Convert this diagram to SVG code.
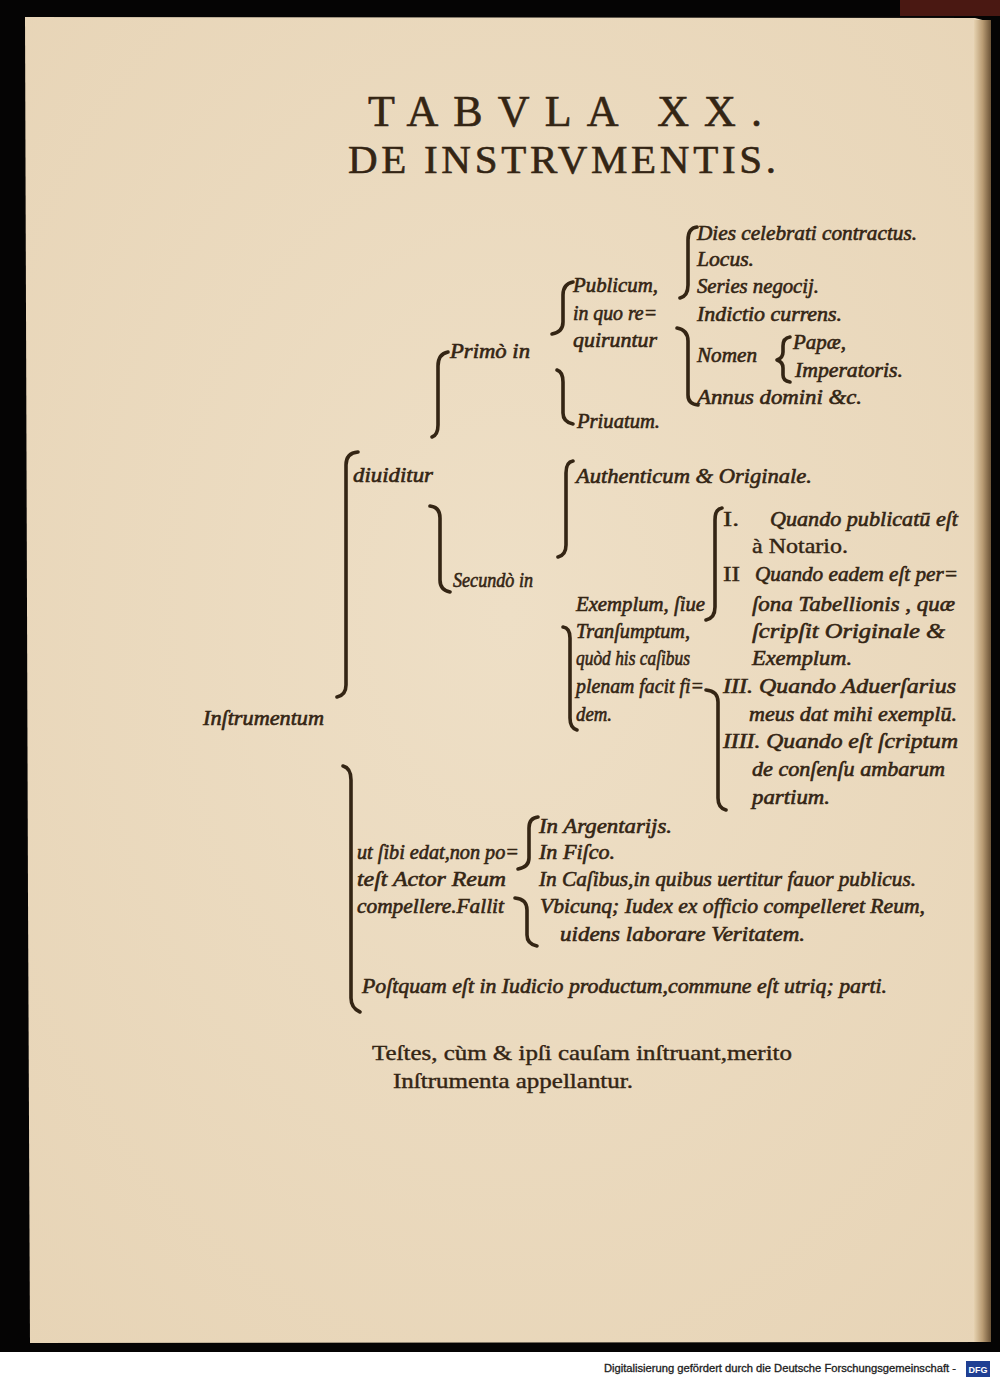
<svg xmlns="http://www.w3.org/2000/svg" width="1000" height="1378" viewBox="0 0 1000 1378">
<defs>
<style>
.it{font-family:"Liberation Serif","DejaVu Serif",serif;font-style:italic;font-size:21px;fill:#342514;stroke:#342514;stroke-width:0.6}
.rm{font-family:"Liberation Serif","DejaVu Serif",serif;font-size:21px;fill:#342514;stroke:#342514;stroke-width:0.4}
.ti{font-family:"Liberation Serif","DejaVu Serif",serif;fill:#342514;stroke:#342514;stroke-width:0.6}
.br{fill:none;stroke:#342514;stroke-width:3.6;stroke-linecap:round;stroke-linejoin:round}
.ft{font-family:"Liberation Sans",Arial,sans-serif;font-size:10px;fill:#222;stroke:#222;stroke-width:0.3}
</style>
<linearGradient id="edge" x1="0" y1="0" x2="1" y2="0">
<stop offset="0" stop-color="#e6d2b0"/>
<stop offset="0.5" stop-color="#b99c74"/>
<stop offset="1" stop-color="#6a5236"/>
</linearGradient>
<radialGradient id="paper" cx="0.5" cy="0.45" r="0.75">
<stop offset="0" stop-color="#eedfc6"/>
<stop offset="1" stop-color="#e7d4b6"/>
</radialGradient>
</defs>

<!-- background / page -->
<rect x="0" y="0" width="1000" height="1378" fill="#050404"/>
<rect x="900" y="0" width="100" height="16" fill="#4a1812"/>
<rect x="0" y="1352" width="1000" height="26" fill="#ffffff"/>
<path d="M25,17 L975,18 L990,22 L991,1342 L30,1343 L28,900 Z" fill="url(#paper)"/>
<rect x="974" y="20" width="17" height="1322" fill="url(#edge)"/>

<!-- title -->
<g id="title">
<text class="ti" x="368" y="126" font-size="44" textLength="394" lengthAdjust="spacing">TABVLA XX.</text>
<text class="ti" x="348" y="173" font-size="41" textLength="428" lengthAdjust="spacing">DE INSTRVMENTIS.</text>
</g>

<!-- connectors (braces) -->
<g id="connectors">
<path class="br" d="M448,352 Q438,354 438,366 L438,425 Q438,435 432,437"/>
<path class="br" d="M573,282 Q563,284 563,295 L563,322 Q563,332 552,334"/>
<path class="br" d="M557,370 Q563,372 563,382 L563,413 Q563,422 573,424"/>
<path class="br" d="M697,227 Q688,228 688,240 L688,285 Q688,296 680,298"/>
<path class="br" d="M677,328 Q688,330 688,341 L688,395 Q688,404 698,405"/>
<path class="br" d="M790,337 Q783,338 783,346 L783,352 Q783,358 777,360 Q783,362 783,368 L783,375 Q783,381 790,382"/>
<path class="br" d="M358,452 Q346,453 346,465 L346,685 Q346,695 337,697"/>
<path class="br" d="M430,506 Q440,507 440,518 L440,580 Q440,590 450,592"/>
<path class="br" d="M573,461 Q566,462 566,473 L566,545 Q566,555 558,557"/>
<path class="br" d="M722,508 Q715,509 715,520 L715,607 Q715,618 706,620"/>
<path class="br" d="M563,627 Q570,628 570,638 L570,718 Q570,728 577,730"/>
<path class="br" d="M706,690 Q718,691 718,702 L718,798 Q718,808 726,810"/>
<path class="br" d="M343,766 Q351,768 351,780 L351,998 Q351,1008 360,1012"/>
<path class="br" d="M538,817 Q529,818 529,828 L529,858 Q529,867 518,869"/>
<path class="br" d="M515,898 Q527,899 527,910 L527,935 Q527,944 537,946"/>
</g>

<g id="instrumentum"><text class="it" x="203" y="725" textLength="121" lengthAdjust="spacingAndGlyphs">Inſtrumentum</text></g>
<g id="diuiditur"><text class="it" x="353" y="482" textLength="80" lengthAdjust="spacingAndGlyphs">diuiditur</text></g>
<g id="primo"><text class="it" x="450" y="358" textLength="80" lengthAdjust="spacingAndGlyphs">Primò in</text></g>
<g id="secundo"><text class="it" x="453" y="587" font-size="19" textLength="80" lengthAdjust="spacingAndGlyphs">Secundò in</text></g>

<g id="publicum">
<text class="it" x="573" y="292" textLength="85" lengthAdjust="spacingAndGlyphs">Publicum,</text>
<text class="it" x="573" y="320" textLength="84" lengthAdjust="spacingAndGlyphs">in quo re=</text>
<text class="it" x="573" y="347" textLength="84" lengthAdjust="spacingAndGlyphs">quiruntur</text>
</g>
<g id="priuatum"><text class="it" x="577" y="428" textLength="83" lengthAdjust="spacingAndGlyphs">Priuatum.</text></g>

<g id="requisita">
<text class="it" x="697" y="240" textLength="220" lengthAdjust="spacingAndGlyphs">Dies celebrati contractus.</text>
<text class="it" x="697" y="266" textLength="57" lengthAdjust="spacingAndGlyphs">Locus.</text>
<text class="it" x="697" y="293" textLength="122" lengthAdjust="spacingAndGlyphs">Series negocij.</text>
<text class="it" x="697" y="321" textLength="145" lengthAdjust="spacingAndGlyphs">Indictio currens.</text>
<text class="it" x="697" y="362" textLength="60" lengthAdjust="spacingAndGlyphs">Nomen</text>
<text class="it" x="697" y="404" textLength="165" lengthAdjust="spacingAndGlyphs">Annus domini &amp;c.</text>
</g>
<g id="nomen">
<text class="it" x="793" y="349" textLength="53" lengthAdjust="spacingAndGlyphs">Papæ,</text>
<text class="it" x="795" y="377" textLength="108" lengthAdjust="spacingAndGlyphs">Imperatoris.</text>
</g>

<g id="authenticum"><text class="it" x="576" y="483" textLength="236" lengthAdjust="spacingAndGlyphs">Authenticum &amp; Originale.</text></g>

<g id="exemplum">
<text class="it" x="576" y="611" textLength="129" lengthAdjust="spacingAndGlyphs">Exemplum, ſiue</text>
<text class="it" x="576" y="638" textLength="114" lengthAdjust="spacingAndGlyphs">Tranſumptum,</text>
<text class="it" x="576" y="665" font-size="19" textLength="114" lengthAdjust="spacingAndGlyphs">quòd his caſibus</text>
<text class="it" x="576" y="693" textLength="128" lengthAdjust="spacingAndGlyphs">plenam facit fi=</text>
<text class="it" x="576" y="721" textLength="36" lengthAdjust="spacingAndGlyphs">dem.</text>
</g>

<g id="casus">
<text class="rm" x="723" y="526" textLength="16" lengthAdjust="spacingAndGlyphs">I.</text>
<text class="it" x="770" y="526" textLength="188" lengthAdjust="spacingAndGlyphs">Quando publicatū eſt</text>
<text class="rm" x="752" y="553" textLength="96" lengthAdjust="spacingAndGlyphs">à Notario.</text>
<text class="rm" x="723" y="581" textLength="17" lengthAdjust="spacingAndGlyphs">II</text>
<text class="it" x="755" y="581" textLength="203" lengthAdjust="spacingAndGlyphs">Quando eadem eſt per=</text>
<text class="it" x="752" y="611" textLength="203" lengthAdjust="spacingAndGlyphs">ſona Tabellionis , quæ</text>
<text class="it" x="752" y="638" textLength="193" lengthAdjust="spacingAndGlyphs">ſcripſit Originale &amp;</text>
<text class="it" x="752" y="665" textLength="100" lengthAdjust="spacingAndGlyphs">Exemplum.</text>
<text class="it" x="723" y="693" textLength="233" lengthAdjust="spacingAndGlyphs">III. Quando Aduerſarius</text>
<text class="it" x="749" y="721" textLength="208" lengthAdjust="spacingAndGlyphs">meus dat mihi exemplū.</text>
<text class="it" x="723" y="748" textLength="235" lengthAdjust="spacingAndGlyphs">IIII. Quando eſt ſcriptum</text>
<text class="it" x="752" y="776" textLength="193" lengthAdjust="spacingAndGlyphs">de conſenſu ambarum</text>
<text class="it" x="752" y="804" textLength="78" lengthAdjust="spacingAndGlyphs">partium.</text>
</g>

<g id="fallit">
<text class="it" x="357" y="859" font-size="20" textLength="162" lengthAdjust="spacingAndGlyphs">ut ſibi edat,non po=</text>
<text class="it" x="357" y="886" textLength="149" lengthAdjust="spacingAndGlyphs">teſt Actor Reum</text>
<text class="it" x="357" y="913" textLength="147" lengthAdjust="spacingAndGlyphs">compellere.Fallit</text>
</g>
<g id="exceptiones">
<text class="it" x="539" y="833" textLength="133" lengthAdjust="spacingAndGlyphs">In Argentarijs.</text>
<text class="it" x="539" y="859" textLength="76" lengthAdjust="spacingAndGlyphs">In Fiſco.</text>
<text class="it" x="539" y="886" textLength="377" lengthAdjust="spacingAndGlyphs">In Caſibus,in quibus uertitur fauor publicus.</text>
<text class="it" x="540" y="913" textLength="385" lengthAdjust="spacingAndGlyphs">Vbicunq; Iudex ex officio compelleret Reum,</text>
<text class="it" x="560" y="941" textLength="245" lengthAdjust="spacingAndGlyphs">uidens laborare Veritatem.</text>
</g>
<g id="postquam"><text class="it" x="362" y="993" textLength="525" lengthAdjust="spacingAndGlyphs">Poſtquam eſt in Iudicio productum,commune eſt utriq; parti.</text></g>

<g id="testes">
<text class="rm" x="372" y="1060" font-size="22" textLength="420" lengthAdjust="spacingAndGlyphs">Teſtes, cùm &amp; ipſi cauſam inſtruant,merito</text>
<text class="rm" x="393" y="1088" font-size="22" textLength="240" lengthAdjust="spacingAndGlyphs">Inſtrumenta appellantur.</text>
</g>

<g id="footer">
<text class="ft" x="604" y="1372" textLength="352" lengthAdjust="spacingAndGlyphs">Digitalisierung gefördert durch die Deutsche Forschungsgemeinschaft -</text>
<rect x="966" y="1361" width="24" height="16" fill="#1f3f93"/>
<text x="978" y="1373" text-anchor="middle" font-family="Liberation Sans,Arial,sans-serif" font-size="9" font-weight="bold" fill="#ffffff">DFG</text>
</g>
</svg>
